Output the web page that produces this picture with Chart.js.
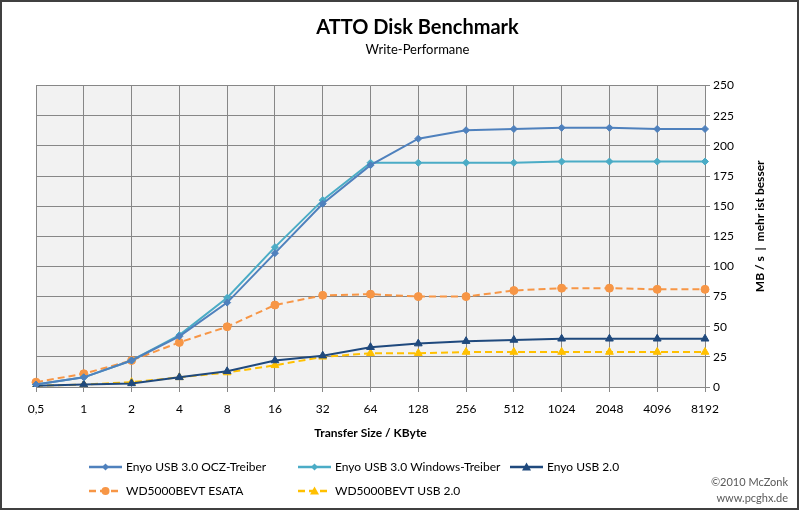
<!DOCTYPE html>
<html>
<head>
<meta charset="utf-8">
<script src="https://cdn.jsdelivr.net/npm/chart.js@4/dist/chart.umd.min.js"></script>
<style>
  html, body { margin: 0; padding: 0; background: #fff; }
  canvas { display: block; }
</style>
</head>
<body>
<canvas id="atto" width="799" height="510"></canvas>
<script>
var sizes = ['0,5', '1', '2', '4', '8', '16', '32', '64', '128', '256', '512', '1024', '2048', '4096', '8192'];
var usb3Ocz = [2, 8, 22, 42, 70, 111, 152, 184, 206, 213, 214, 215, 215, 214, 214];
var usb3Win = [2, 8, 22, 43, 74, 116, 155, 186, 186, 186, 186, 187, 187, 187, 187];
var enyoUsb2 = [1, 2, 3, 8, 13, 22, 26, 33, 36, 38, 39, 40, 40, 40, 40];
var wdEsata = [4, 11, 22, 37, 50, 68, 76, 77, 75, 75, 80, 82, 82, 81, 81];
var wdUsb2 = [1, 2, 4, 8, 12, 18, 25, 28, 28, 29, 29, 29, 29, 29, 29];
var yTicks = [0, 25, 50, 75, 100, 125, 150, 175, 200, 225, 250];

var FONT = 'Lato, "Open Sans", sans-serif';
var gridColor = '#878787';

function series(label, data, color, style, radius, dashed) {
    return {
        label: label,
        data: data,
        borderColor: color,
        backgroundColor: color,
        borderWidth: 2,
        borderDash: dashed ? [7, 4] : [],
        pointStyle: style,
        pointRadius: radius,
        pointHoverRadius: radius,
        pointBorderWidth: 1,
        tension: 0,
        fill: false
    };
}

function drawMarker(ctx, style, r, x, y, color) {
    ctx.save();
    ctx.fillStyle = color;
    ctx.setLineDash([]);
    ctx.beginPath();
    if (style === 'circle') {
        ctx.arc(x, y, r, 0, Math.PI * 2);
    } else if (style === 'rectRot') {
        ctx.moveTo(x, y - r); ctx.lineTo(x + r, y); ctx.lineTo(x, y + r); ctx.lineTo(x - r, y);
    } else {
        ctx.moveTo(x, y - r); ctx.lineTo(x + r, y + r * 0.8); ctx.lineTo(x - r, y + r * 0.8);
    }
    ctx.closePath();
    ctx.fill();
    ctx.restore();
}

// frame, plot background, y title, legend and credits
var decor = {
    id: 'decor',
    beforeDraw: function (chart) {
        var ctx = chart.ctx, a = chart.chartArea;
        ctx.save();
        ctx.fillStyle = '#F2F2F2';
        ctx.fillRect(a.left, a.top, a.right - a.left, a.bottom - a.top);
        ctx.restore();
    },
    afterDraw: function (chart) {
        var ctx = chart.ctx, a = chart.chartArea;
        ctx.save();
        ctx.strokeStyle = '#404040';
        ctx.lineWidth = 2;
        ctx.strokeRect(1, 1, chart.width - 2, chart.height - 2);

        // y axis title, reading upward
        ctx.translate(760, (a.top + a.bottom) / 2 - 10);
        ctx.rotate(-Math.PI / 2);
        ctx.fillStyle = '#000';
        ctx.font = 'bold 12px ' + FONT;
        ctx.textAlign = 'center';
        ctx.textBaseline = 'middle';
        ctx.fillText('MB / s  |  mehr ist besser', 0, 0);
        ctx.restore();

        // legend
        var slots = [[89, 467], [298, 467], [510, 467], [89, 491], [298, 491]];
        ctx.save();
        ctx.font = '12px ' + FONT;
        ctx.textBaseline = 'middle';
        chart.data.datasets.forEach(function (ds, i) {
            var x = slots[i][0], y = slots[i][1];
            ctx.strokeStyle = ds.borderColor;
            ctx.lineWidth = 2.5;
            ctx.setLineDash(ds.borderDash);
            ctx.beginPath();
            ctx.moveTo(x, y); ctx.lineTo(x + 33, y);
            ctx.stroke();
            drawMarker(ctx, ds.pointStyle, ds.pointRadius, x + 16.5, y, ds.borderColor);
            ctx.fillStyle = '#000';
            ctx.fillText(ds.label, x + 37, y);
        });
        ctx.fillStyle = '#595959';
        ctx.font = '11px ' + FONT;
        ctx.textAlign = 'right';
        ctx.fillText('\u00A92010 McZonk', 788, 482);
        ctx.fillText('www.pcghx.de', 788, 498);
        ctx.restore();
    }
};

new Chart(document.getElementById('atto'), {
    type: 'line',
    data: {
        labels: sizes,
        datasets: [
            series('Enyo USB 3.0 OCZ-Treiber', usb3Ocz, '#4F81BD', 'rectRot', 3.5, false),
            series('Enyo USB 3.0 Windows-Treiber', usb3Win, '#4BACC6', 'rectRot', 3.5, false),
            series('Enyo USB 2.0', enyoUsb2, '#1F497D', 'triangle', 4.5, false),
            series('WD5000BEVT ESATA', wdEsata, '#F79646', 'circle', 4, true),
            series('WD5000BEVT USB 2.0', wdUsb2, '#FFC000', 'triangle', 4.5, true)
        ]
    },
    options: {
        responsive: false,
        animation: false,
        events: [],
        layout: { padding: { left: 36, right: 0, top: 0, bottom: 63 } },
        plugins: {
            legend: { display: false },
            tooltip: { enabled: false },
            title: {
                display: true,
                text: 'ATTO Disk Benchmark',
                color: '#000',
                font: { family: FONT, size: 20, weight: 'bold' },
                padding: { top: 16, bottom: 2 }
            },
            subtitle: {
                display: true,
                text: 'Write-Performane',
                color: '#000',
                font: { family: FONT, size: 13 },
                padding: { top: 0, bottom: 28 }
            }
        },
        scales: {
            x: {
                type: 'category',
                offset: false,
                grid: { color: gridColor, tickLength: 5, offset: false },
                border: { color: gridColor },
                ticks: {
                    color: '#000', autoSkip: false, maxRotation: 0, padding: 10,
                    font: { family: FONT, size: 12 }
                },
                title: {
                    display: true,
                    text: 'Transfer Size / KByte',
                    color: '#000',
                    font: { family: FONT, size: 12, weight: 'bold' },
                    padding: { top: 4, bottom: 7 }
                },
                afterFit: function (s) { s.height = 60; }
            },
            y: {
                position: 'right',
                min: 0,
                max: 250,
                afterBuildTicks: function (s) { s.ticks = yTicks.map(function (v) { return { value: v }; }); },
                grid: { color: gridColor, tickLength: 5 },
                border: { color: gridColor },
                ticks: {
                    color: '#000', padding: 3,
                    font: { family: FONT, size: 12 }
                },
                afterFit: function (s) { s.width = 94; }
            }
        }
    },
    plugins: [decor]
});
</script>
</body>
</html>
